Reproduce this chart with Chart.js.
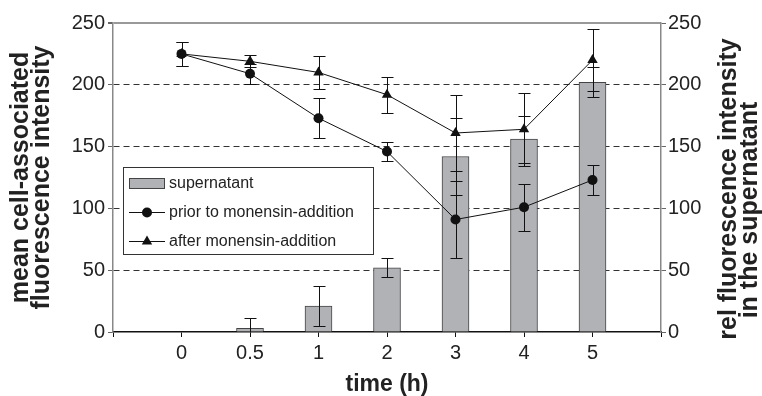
<!DOCTYPE html>
<html>
<head>
<meta charset="utf-8">
<script src="https://cdn.jsdelivr.net/npm/chart.js@4/dist/chart.umd.min.js"></script>
<style>
  html, body { margin: 0; padding: 0; background: #fff; }
</style>
</head>
<body>
<canvas id="myChart" width="762" height="396"></canvas>
<script>
// time points (empty slots at both ends give the margin inside the axes)
const timeLabels = ["", "0", "0.5", "1", "2", "3", "4", "5", ""];
const yTicks = [0, 50, 100, 150, 200, 250];

const supernatant = [null, 0, 3, 21, 52, 142, 156, 202, null];
const supernatantErr = [null, 0, 8, 16, 7.5, 31, 19, 12, null];
const prior = [null, 225, 209, 173, 146, 91, 101, 123, null];
const priorErr = [null, 10, 8, 16, 7.5, 31, 19, 12, null];
const after = [null, 225, 219, 210, 192, 161, 164, 220, null];
const afterErr = [null, 10, 5, 13.5, 14.5, 31, 29.5, 25, null];

const seriesNames = ["supernatant", "prior to monensin-addition", "after monensin-addition"];
const leftTitle = ["mean cell-associated", "fluorescence intensity"];
const rightTitle = ["rel fluorescence intensity", "in the supernatant"];
const xTitle = "time (h)";

const FONT = "'Liberation Sans', Arial, Helvetica, sans-serif";
const barGray = "#b1b2b6";

const errorBars = {
  id: "errorBars",
  afterDatasetsDraw(chart) {
    const ctx = chart.ctx;
    const xs = chart.scales.x;
    const sets = [
      [supernatant, supernatantErr, "y2"],
      [prior, priorErr, "y"],
      [after, afterErr, "y"],
    ];
    ctx.save();
    ctx.strokeStyle = "#111";
    ctx.lineWidth = 1;
    sets.forEach(([vals, errs, axis]) => {
      const ys = chart.scales[axis];
      vals.forEach((v, i) => {
        if (v === null || !errs[i]) return;
        const px = Math.round(xs.getPixelForValue(i)) + 0.5;
        const top = Math.round(ys.getPixelForValue(v + errs[i])) + 0.5;
        const low = v - errs[i];
        const bot = Math.round(ys.getPixelForValue(Math.max(low, 0))) + 0.5;
        ctx.beginPath();
        ctx.moveTo(px, top);
        ctx.lineTo(px, bot);
        ctx.moveTo(px - 6, top);
        ctx.lineTo(px + 6, top);
        if (low > 0) {
          ctx.moveTo(px - 6, bot);
          ctx.lineTo(px + 6, bot);
        }
        ctx.stroke();
      });
    });
    ctx.restore();
  },
};

const legendBox = {
  id: "legendBox",
  afterDraw(chart) {
    const ctx = chart.ctx;
    const a = chart.chartArea;
    const bx = a.left + 10;
    const by = a.top + 144;
    ctx.save();
    ctx.fillStyle = "#fff";
    ctx.fillRect(bx, by, 250, 87);
    ctx.strokeStyle = "#333";
    ctx.lineWidth = 1;
    ctx.strokeRect(bx + 0.5, by + 0.5, 250, 87);

    const rows = [by + 16, by + 45, by + 74];
    // bar swatch
    ctx.fillStyle = barGray;
    ctx.fillRect(bx + 6, rows[0] - 5, 36, 10);
    ctx.strokeStyle = "#444";
    ctx.strokeRect(bx + 6.5, rows[0] - 4.5, 35, 10);
    // line samples
    ctx.strokeStyle = "#111";
    ctx.fillStyle = "#111";
    [1, 2].forEach((k) => {
      const y = rows[k] + 0.5;
      ctx.beginPath();
      ctx.moveTo(bx + 6, y);
      ctx.lineTo(bx + 42, y);
      ctx.stroke();
      const style = k === 1 ? "circle" : "triangle";
      Chart.helpers.drawPoint(ctx, { pointStyle: style, radius: k === 1 ? 5 : 6, borderWidth: 0 }, bx + 24, y);
    });
    ctx.fillStyle = "#222";
    ctx.font = "16px " + FONT;
    ctx.textBaseline = "middle";
    ctx.textAlign = "left";
    seriesNames.forEach((n, i) => ctx.fillText(n, bx + 46, rows[i] + 1));
    ctx.restore();
  },
};

const rightTitleDraw = {
  id: "rightTitleDraw",
  afterDraw(chart) {
    const ctx = chart.ctx;
    const a = chart.chartArea;
    const spots = [
      [a.right + 75, a.top + 166],
      [a.right + 96, a.top + 187],
    ];
    ctx.save();
    ctx.fillStyle = "#222";
    ctx.font = "bold 25px " + FONT;
    ctx.textAlign = "center";
    ctx.textBaseline = "alphabetic";
    rightTitle.forEach((t, i) => {
      ctx.save();
      ctx.translate(spots[i][0], spots[i][1]);
      ctx.rotate(-Math.PI / 2);
      ctx.fillText(t, 0, 0);
      ctx.restore();
    });
    ctx.restore();
  },
};

const setTicks = (scale) => {
  scale.ticks = yTicks.map((v) => ({ value: v }));
};

const ctx = document.getElementById("myChart").getContext("2d");
const myChart = new Chart(ctx, {
  data: {
    labels: timeLabels,
    datasets: [
      {
        type: "line",
        label: seriesNames[1],
        data: prior,
        yAxisID: "y",
        borderColor: "#111",
        borderWidth: 1,
        pointStyle: "circle",
        pointRadius: 5,
        pointBackgroundColor: "#111",
        pointBorderWidth: 0,
        order: 1,
      },
      {
        type: "line",
        label: seriesNames[2],
        data: after,
        yAxisID: "y",
        borderColor: "#111",
        borderWidth: 1,
        pointStyle: "triangle",
        pointRadius: 6,
        pointBackgroundColor: "#111",
        pointBorderWidth: 0,
        order: 2,
      },
      {
        type: "bar",
        label: seriesNames[0],
        data: supernatant,
        yAxisID: "y2",
        backgroundColor: barGray,
        borderColor: "#444",
        borderWidth: 1,
        barThickness: 27,
        order: 3,
      },
    ],
  },
  options: {
    responsive: false,
    animation: false,
    layout: { padding: { top: 23, left: 0, right: 0, bottom: 0 } },
    plugins: {
      legend: { display: false },
      tooltip: { enabled: false },
    },
    scales: {
      x: {
        type: "category",
        offset: false,
        afterFit: (s) => { s.height = 64; },
        grid: {
          offset: false,
          drawOnChartArea: false,
          tickLength: 5,
          tickColor: "#111",
        },
        border: { color: "#111", width: 1.5 },
        ticks: {
          padding: 4,
          color: "#222",
          font: { family: FONT, size: 20 },
          autoSkip: false,
          maxRotation: 0,
        },
        title: {
          display: true,
          text: xTitle,
          color: "#222",
          font: { family: FONT, size: 23, weight: "bold", lineHeight: 1 },
          padding: { top: 0, bottom: 0 },
        },
      },
      y: {
        position: "left",
        min: 0,
        max: 250,
        afterBuildTicks: setTicks,
        afterFit: (s) => { s.width = 113; },
        grid: {
          color: (c) => (c.tick.value === 0 ? "rgba(0,0,0,0)" : c.tick.value === 250 ? "#999" : "#333"),
          lineWidth: (c) => (c.tick.value === 250 ? 2 : 1),
          tickColor: "#666",
          tickLength: 5,
          tickBorderDash: [],
        },
        border: {
          color: "#888",
          width: 1.5,
          dash: (c) => (c.tick && c.tick.value === 250 ? [] : [6, 4]),
        },
        ticks: {
          padding: 3,
          color: "#222",
          font: { family: FONT, size: 20 },
        },
        title: {
          display: true,
          text: leftTitle,
          color: "#222",
          font: { family: FONT, size: 25, weight: "bold", lineHeight: 0.84 },
          padding: { top: 11, bottom: 0 },
        },
      },
      y2: {
        position: "right",
        min: 0,
        max: 250,
        afterBuildTicks: setTicks,
        afterFit: (s) => { s.width = 101; },
        grid: {
          drawOnChartArea: false,
          tickColor: "#666",
          tickLength: 5,
        },
        border: { color: "#888", width: 1.5 },
        ticks: {
          padding: 2,
          color: "#222",
          font: { family: FONT, size: 20 },
        },
      },
    },
  },
  plugins: [errorBars, legendBox, rightTitleDraw],
});
</script>
</body>
</html>
